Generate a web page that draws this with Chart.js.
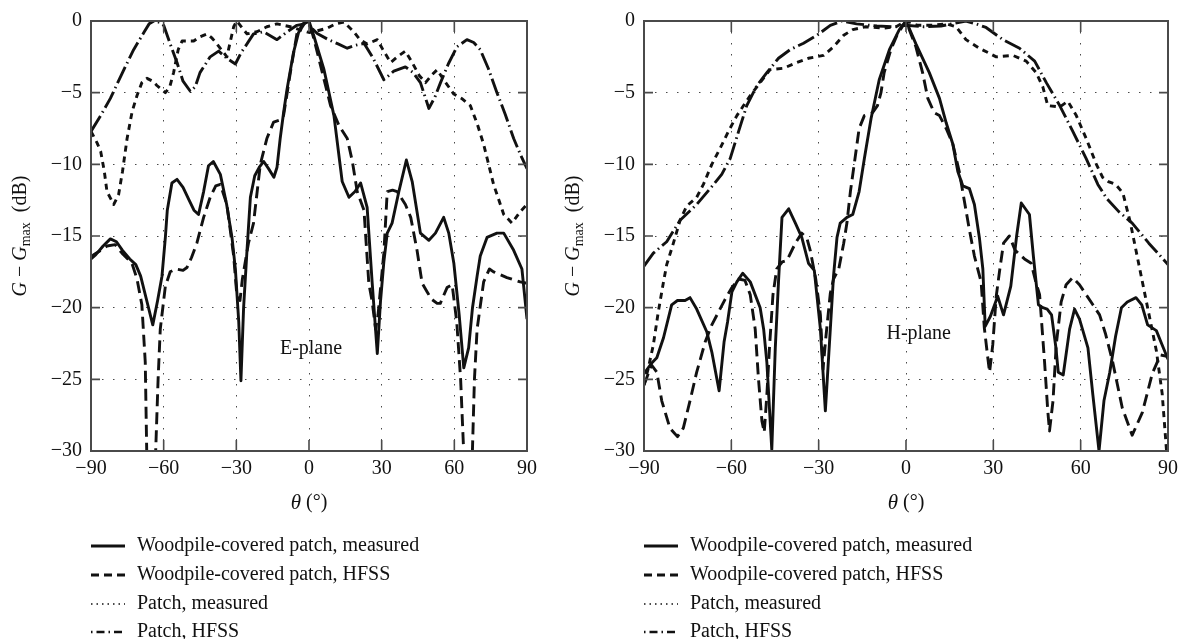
<!DOCTYPE html>
<html>
<head>
<meta charset="utf-8">
<script src="https://cdn.jsdelivr.net/npm/chart.js@4.4.1/dist/chart.umd.min.js"></script>
<style>
  html, body { margin: 0; padding: 0; background: #fff; }
  #wrap { position: relative; width: 1186px; height: 639px; }
  #wrap canvas { position: absolute; left: 0; top: 0; }
</style>
</head>
<body>
<div id="wrap">
  <canvas id="eplane" width="1186" height="639"></canvas>
  <canvas id="hplane" width="1186" height="639"></canvas>
</div>
<script>
// ---- data: [theta (deg), G - Gmax (dB)] ----
const seriesNames = [
  'Woodpile-covered patch, measured',
  'Woodpile-covered patch, HFSS',
  'Patch, measured',
  'Patch, HFSS'
];

const xTicks = [-90, -60, -30, 0, 30, 60, 90];
const yTicks = [-30, -25, -20, -15, -10, -5, 0];

// E-plane
const eWoodMeasured = [
  [-90,-16.6],[-88,-16.3],[-85,-15.7],[-82,-15.2],[-79.5,-15.4],[-77,-16.0],[-74,-16.6],[-71.5,-17.0],
  [-69.5,-17.8],[-67,-19.5],[-64.5,-21.2],[-62.5,-19.5],[-60.7,-17.8],[-59.3,-15.1],[-58.5,-13.2],
  [-56.6,-11.3],[-54.5,-11.05],[-52,-11.6],[-49.5,-12.5],[-47.5,-13.2],[-45.6,-13.5],[-43.5,-11.9],
  [-41.5,-10.1],[-39.5,-9.8],[-36.6,-10.7],[-34,-12.8],[-31.8,-15.1],[-30.4,-17.3],[-29,-21],
  [-28.1,-25.1],[-27,-20],[-25.6,-16],[-24.2,-12.3],[-22.4,-10.8],[-20.5,-10.2],[-18.7,-9.8],
  [-16.7,-10.3],[-14.5,-10.9],[-13.2,-10.2],[-11.9,-8.2],[-10.5,-6.4],[-9.1,-4.8],[-6.4,-2.2],
  [-4.3,-0.8],[-2,-0.2],[0,0],[2.1,-1.1],[6.2,-3.4],[10.3,-6.6],[13.7,-11.2],[16.5,-12.3],[19,-11.9],
  [21.3,-11.3],[24,-13.0],[26.1,-18.3],[28.2,-23.2],[29.5,-19.6],[30.9,-16.8],[32.3,-14.8],[34.3,-14.1],
  [37.1,-11.9],[40.2,-9.7],[42.6,-11.2],[46,-14.8],[49.5,-15.3],[52.2,-14.8],[55.6,-13.7],[57.7,-14.8],
  [59.8,-16.9],[62,-20.5],[63.9,-24.2],[65.9,-22.8],[67.5,-20],[69.4,-17.8],[70.7,-16.4],[73.5,-15.1],
  [77.6,-14.8],[80.4,-14.8],[84.5,-16],[87.9,-17.3],[90,-20.8]
];
const eWoodHfss = [
  [-90,-16.5],[-88.9,-16.3],[-86,-16],[-83.4,-15.7],[-80,-15.6],[-77.2,-16.2],[-73.1,-16.9],[-71,-18.0],
  [-69,-19.8],[-67.6,-23.8],[-66.9,-31],[-63.5,-31],[-62.3,-25],[-61.4,-21.5],[-59.3,-18.5],[-57.3,-17.5],
  [-55,-17.3],[-52,-17.4],[-50.4,-17.2],[-48.5,-16.5],[-46.3,-15.5],[-43.5,-13.7],[-40.8,-12.3],
  [-38.5,-11.5],[-36.6,-11.4],[-33.9,-12.8],[-31.1,-16.4],[-29.8,-19.1],[-28.5,-19.5],[-27.5,-18],
  [-25,-15.5],[-22.9,-14.1],[-20.1,-10],[-17.4,-8.2],[-14.6,-7.05],[-12,-6.9],[-10.5,-6.6],[-7.7,-3.6],
  [-5,-0.9],[-2.5,-0.2],[0,0],[2.1,-1.3],[5.5,-3.6],[8.9,-5.9],[12.4,-7.3],[15.8,-8.2],[17.9,-9.8],
  [19.9,-11.9],[22.7,-13.2],[24.7,-18.3],[26.1,-19.6],[27.5,-21.5],[28.5,-20.5],[29.5,-18.7],[30.9,-16.2],
  [32.3,-11.9],[34.5,-11.8],[36.4,-11.9],[39.8,-12.8],[42,-13.7],[44.6,-16],[46.7,-18.3],[48.8,-18.9],
  [50.5,-19.4],[52.9,-19.7],[54.2,-19.7],[57,-18.6],[59.1,-18.4],[61,-21],[62.6,-25],[64.1,-31],
  [67.3,-31],[68.3,-25],[69.4,-21.5],[72.1,-18.2],[74.5,-17.3],[76.2,-17.5],[81.7,-17.9],[87.2,-18.2],
  [90,-18.3]
];
const ePatchMeasured = [
  [-90,-7.7],[-87.5,-8.5],[-86,-9.1],[-84.5,-10.5],[-83.4,-11.9],[-80.6,-12.8],[-78.6,-12.1],[-77,-10.5],
  [-75.1,-8.2],[-73,-6.3],[-71,-5.2],[-69,-4.3],[-66.9,-4.0],[-64.5,-4.2],[-62.8,-4.5],[-59.3,-5.0],
  [-57.5,-4.6],[-55.9,-3.6],[-54,-2],[-52.4,-1.4],[-47.6,-1.4],[-45,-1.1],[-42.1,-0.9],[-40,-1.2],
  [-38,-1.6],[-33.9,-2.5],[-31.1,-0.4],[-29.8,0],[-27.5,-0.5],[-25.6,-0.9],[-21.5,-0.75],[-17.4,-0.4],
  [-13.2,-0.2],[-7.7,-0.4],[-4,-0.6],[0,-0.8],[3,-0.7],[7.6,-0.5],[11,-0.2],[14.4,-0.07],[18.5,-0.75],
  [21,-1.3],[24,-1.6],[28.2,-1.3],[30.5,-2.0],[33.7,-2.9],[36.5,-2.5],[39.8,-2.1],[42.6,-2.9],
  [45.5,-3.8],[48.1,-4.3],[50.5,-3.8],[52.9,-3.4],[56,-4.2],[59.8,-5.1],[63,-5.4],[66.6,-5.9],
  [69.5,-7.2],[72.1,-8.6],[76.2,-11.4],[80.4,-13.5],[83.8,-14.1],[87.2,-13.3],[90,-12.8]
];
const ePatchHfss = [
  [-90,-7.7],[-86,-6.6],[-82,-5.4],[-77,-3.6],[-72.4,-2],[-68,-0.75],[-66,-0.2],[-64,0],[-61.5,-0.1],
  [-60,-0.3],[-57.3,-1.6],[-54.5,-2.9],[-52,-4.2],[-49,-4.9],[-47,-4.6],[-45,-3.6],[-40.8,-2.5],
  [-37.3,-2.1],[-34,-2.6],[-30.4,-3.0],[-28,-2.2],[-25.6,-1.6],[-22.9,-0.9],[-18.7,-0.75],[-13.2,-1.3],
  [-9,-0.75],[-5,-0.3],[-2,-0.2],[0,-0.3],[3.4,-0.87],[8,-1.3],[12,-1.6],[15.8,-1.9],[19,-1.7],
  [22.7,-1.56],[26.5,-2.6],[30.9,-4.1],[35,-3.5],[39.8,-3.2],[43,-3.6],[46,-4.3],[49.5,-6.1],[52,-5.3],
  [54.3,-4.3],[57.5,-3.0],[61.1,-1.8],[65.2,-1.3],[68,-1.5],[70.7,-2.0],[74,-3.3],[77.6,-5.0],[81,-6.5],
  [84.5,-8.2],[87.5,-9.4],[90,-10.3]
];

// H-plane
const hWoodMeasured = [
  [-90,-24.6],[-87.5,-23.9],[-85.6,-23.5],[-83.3,-22.1],[-80.5,-19.8],[-78.5,-19.5],[-75.9,-19.5],
  [-74.2,-19.3],[-71.9,-20.1],[-68.4,-21.7],[-66.7,-23.1],[-64.2,-25.8],[-62.5,-22.4],[-61.3,-21],
  [-59.8,-18.9],[-58.1,-18.2],[-56.1,-17.6],[-53.5,-18.2],[-50.1,-20],[-48.9,-21.5],[-47.8,-23.8],
  [-46.1,-29.9],[-44.9,-22.8],[-43.8,-18.2],[-42.6,-13.7],[-40.3,-13.1],[-38,-14.1],[-35.8,-15.1],
  [-33.5,-16.9],[-31.5,-17.4],[-29.4,-21.5],[-27.7,-27.2],[-26,-21.5],[-24.9,-17.8],[-23.7,-15.1],
  [-22.6,-14.1],[-20.3,-13.7],[-18.3,-13.5],[-16.1,-11.9],[-14.3,-9.6],[-12,-6.8],[-9.2,-4.1],
  [-5.7,-2.0],[-2.3,-0.6],[0,0],[3.4,-1.6],[8,-3.6],[11.5,-5.4],[13.8,-7.1],[16.1,-8.6],[17.8,-10.5],
  [19.5,-11.5],[21.8,-11.7],[23.5,-12.8],[25.2,-15.1],[26.4,-17.3],[27.2,-21.3],[29,-20.6],[31.5,-19.2],
  [33.5,-20.5],[36,-18.5],[38,-15],[39.6,-12.7],[42.4,-13.5],[43.8,-16.5],[45.5,-19.8],[47,-20],
  [48.5,-20.1],[50,-20.5],[51.5,-22.8],[52.3,-24.5],[54,-24.7],[56.2,-21.5],[57.9,-20.1],[59.6,-20.8],
  [62.5,-22.8],[64.2,-26.1],[66.3,-30],[68,-26.5],[70,-24.5],[72,-22],[74,-20],[76,-19.6],[79,-19.3],
  [81,-19.8],[83,-21.2],[86,-21.6],[88,-22.6],[90,-23.6]
];
const hWoodHfss = [
  [-90,-25.4],[-87.4,-24],[-85.6,-24.5],[-83.9,-26.5],[-81.1,-28.4],[-78.5,-29],[-76.5,-28.4],
  [-74.2,-26.5],[-71.9,-24.5],[-69,-22.4],[-66.7,-21.2],[-64.4,-20.3],[-62.1,-19.4],[-59.8,-18.6],
  [-57.5,-18],[-55.3,-18.1],[-53.5,-19.1],[-51.8,-21.5],[-50.7,-24.9],[-49.5,-27.9],[-48.7,-28.7],
  [-47.8,-26.1],[-46.9,-22.8],[-45.7,-19.1],[-44.4,-17.3],[-42.5,-16.8],[-40.9,-16.7],[-38,-15.5],
  [-35.8,-14.8],[-34,-15.2],[-32.9,-16],[-31,-18],[-29.4,-20.5],[-28.5,-24.3],[-27.5,-22],[-26,-19],
  [-24.9,-18],[-23.1,-17.3],[-21.4,-15.5],[-20.3,-14.1],[-19.1,-11.9],[-18,-10.3],[-16.1,-7.5],
  [-14.3,-6.6],[-11.5,-6.4],[-9.8,-5.9],[-8.6,-5],[-7.5,-3.6],[-5.2,-2.0],[-2.9,-0.9],[0,0],[3.4,-1.8],
  [5.7,-3.6],[7.5,-5.4],[9.7,-6.4],[11.5,-6.6],[13.8,-7.5],[16.1,-8.6],[18.3,-10.5],[20,-12.5],
  [21.8,-14.6],[23.5,-16.4],[25.8,-18.2],[26.9,-21.4],[28.1,-23.5],[28.7,-24.5],[29.8,-22.6],[31,-19.2],
  [32.1,-17.5],[33.5,-15.5],[35.5,-15.0],[37.5,-16],[40.7,-16.6],[43,-16.9],[44.7,-18.3],[45.9,-19.1],
  [47.6,-23.8],[48.7,-27.2],[49.3,-28.6],[50.5,-26.5],[51.6,-22.6],[53.3,-19.6],[55,-18.4],[57.3,-17.9],
  [59.6,-18.4],[61.9,-19.1],[64.2,-19.8],[66.5,-20.5],[68.5,-21.8],[70.9,-23.7],[74.3,-27],[77.7,-28.9],
  [81.2,-27.3],[84.6,-24.6],[87.4,-23.3],[89.7,-23.4]
];
const hPatchMeasured = [
  [-90,-25.4],[-88.5,-24.2],[-86.8,-22.6],[-85.1,-20.3],[-83.3,-18.2],[-82.2,-17.0],[-79.9,-15.5],
  [-77.6,-13.9],[-75.3,-12.9],[-71.9,-12.3],[-69.6,-11.4],[-66.7,-10],[-63.9,-8.9],[-61,-7.7],
  [-58.1,-6.6],[-55.8,-5.9],[-53.5,-5.2],[-50.1,-4.3],[-46.7,-3.4],[-42.1,-3.3],[-37.5,-2.9],
  [-33.5,-2.6],[-28.3,-2.4],[-24.9,-1.8],[-21.4,-1.0],[-18.3,-0.6],[-13.8,-0.4],[-8,-0.5],[-3.4,-0.4],
  [0,0],[4,-0.3],[9,-0.3],[14,-0.2],[17.2,-0.4],[20.6,-1.3],[25.2,-1.9],[31,-2.5],[36.7,-2.4],
  [41.3,-2.8],[44.7,-3.6],[47,-4.6],[48.7,-5.9],[52.8,-6.0],[55.6,-5.6],[58.5,-6.6],[61.9,-8.2],
  [65.4,-10.0],[67.5,-10.9],[69.5,-11.2],[72,-11.4],[74.5,-12],[77,-14],[80,-17],[83,-20],[86,-23],
  [88,-26],[89.5,-30]
];
const hPatchHfss = [
  [-90,-17.1],[-86.8,-16.2],[-82.2,-15.4],[-77.6,-13.9],[-71.9,-12.8],[-67.3,-11.7],[-63.3,-10.7],
  [-60.4,-9.6],[-57.5,-7.7],[-54.7,-5.9],[-51.2,-4.5],[-47.8,-3.6],[-43.8,-2.6],[-39.8,-2.0],
  [-35.2,-1.55],[-30.6,-1.0],[-26,-0.3],[-22,0],[-17,-0.2],[-10,-0.35],[-4,-0.4],[0,-0.3],[6,-0.4],
  [12,-0.35],[17,-0.15],[20.6,0],[24,-0.2],[27.5,-0.45],[33.3,-1.3],[39,-1.9],[44.2,-2.8],[48.2,-4.3],
  [52.8,-5.9],[57.3,-7.7],[61.9,-9.6],[65.9,-11.4],[69,-12.4],[73.1,-13.3],[77.7,-14.1],[83.4,-15.5],
  [87,-16.3],[90,-17.0]
];

// ---- styling ----
const SERIF = '"Liberation Serif", "DejaVu Serif", serif';
const INK = '#111111';
const AXIS = '#4a4a4a';
const W = 1186, H = 639;

const lineStyles = [
  { dash: [], width: 2.9, legendDash: [], legendWidth: 2.8 },
  { dash: [12, 6], width: 2.9, legendDash: [8, 5], legendWidth: 2.8 },
  { dash: [6, 5], width: 2.9, legendDash: [1.5, 4], legendWidth: 1.4 },
  { dash: [18, 4, 1.5, 4], width: 2.9, legendDash: [1.5, 4, 8, 4], legendWidth: 2.4 }
];

const fmtTick = v => (v < 0 ? '\u2212' + Math.abs(v) : String(v));

// frame, inward ticks, titles, plane label and legend
const decorPlugin = {
  id: 'decor',
  afterDraw(chart, args, opts) {
    const { ctx, chartArea: a, scales: { x, y } } = chart;
    ctx.save();
    ctx.setLineDash([]);
    ctx.strokeStyle = AXIS;
    ctx.lineWidth = 1.6;
    ctx.beginPath();
    xTicks.forEach(v => {
      const px = x.getPixelForValue(v);
      ctx.moveTo(px, a.bottom); ctx.lineTo(px, a.bottom - 11);
      ctx.moveTo(px, a.top); ctx.lineTo(px, a.top + 11);
    });
    yTicks.forEach(v => {
      const py = y.getPixelForValue(v);
      ctx.moveTo(a.left, py); ctx.lineTo(a.left + 9, py);
      ctx.moveTo(a.right, py); ctx.lineTo(a.right - 9, py);
    });
    ctx.stroke();
    ctx.lineWidth = 2;
    ctx.strokeRect(a.left, a.top, a.right - a.left, a.bottom - a.top);

    ctx.fillStyle = INK;
    ctx.textBaseline = 'middle';

    // plane label
    ctx.font = `20px ${SERIF}`;
    ctx.textAlign = 'left';
    ctx.fillText(opts.plane.text, x.getPixelForValue(opts.plane.x), y.getPixelForValue(opts.plane.y));

    // x title: theta (deg)
    const cx = (a.left + a.right) / 2;
    const xParts = [
      { t: '\u03b8', f: `italic 21px ${SERIF}`, dy: 0 },
      { t: ' (\u00b0)', f: `20px ${SERIF}`, dy: 0 }
    ];
    drawParts(ctx, xParts, cx, opts.xTitleY);

    // y title: G - Gmax (dB)
    ctx.save();
    ctx.translate(opts.yTitleX, (a.top + a.bottom) / 2);
    ctx.rotate(-Math.PI / 2);
    const yParts = [
      { t: 'G', f: `italic 20px ${SERIF}`, dy: 0 },
      { t: ' \u2212 ', f: `20px ${SERIF}`, dy: 0 },
      { t: 'G', f: `italic 20px ${SERIF}`, dy: 0 },
      { t: 'max', f: `14px ${SERIF}`, dy: 5 },
      { t: '  (dB)', f: `20px ${SERIF}`, dy: 0 }
    ];
    drawParts(ctx, yParts, 0, 0);
    ctx.restore();

    // legend
    chart.data.datasets.forEach((ds, i) => {
      const st = lineStyles[i];
      const ly = opts.legend.rows[i];
      ctx.save();
      ctx.strokeStyle = INK;
      ctx.lineWidth = st.legendWidth;
      ctx.setLineDash(st.legendDash);
      ctx.beginPath();
      ctx.moveTo(opts.legend.x, ly);
      ctx.lineTo(opts.legend.x + 34, ly);
      ctx.stroke();
      ctx.restore();
      ctx.font = `20px ${SERIF}`;
      ctx.textAlign = 'left';
      ctx.fillText(ds.label, opts.legend.x + 46, ly);
    });
    ctx.restore();
  }
};

function drawParts(ctx, parts, cx, cy) {
  let total = 0;
  parts.forEach(p => { ctx.font = p.f; p.w = ctx.measureText(p.t).width; total += p.w; });
  let px = cx - total / 2;
  ctx.textAlign = 'left';
  parts.forEach(p => { ctx.font = p.f; ctx.fillText(p.t, px, cy + p.dy); px += p.w; });
}

function makeChart(id, series, box, plane, yTitleX) {
  const tickFont = { family: SERIF, size: 20 };
  return new Chart(document.getElementById(id), {
    type: 'line',
    data: {
      datasets: series.map((s, i) => ({
        label: seriesNames[i],
        data: s.map(([t, g]) => ({ x: t, y: g })),
        borderColor: INK,
        borderWidth: lineStyles[i].width,
        borderDash: lineStyles[i].dash,
        borderJoinStyle: 'round',
        pointRadius: 0,
        fill: false,
        tension: 0
      }))
    },
    options: {
      responsive: false,
      animation: false,
      devicePixelRatio: 1,
      layout: { padding: { left: 0, top: box.top, right: W - box.right, bottom: 0 } },
      scales: {
        x: {
          type: 'linear', min: -90, max: 90,
          afterBuildTicks: s => { s.ticks = xTicks.map(v => ({ value: v })); },
          afterFit: s => { s.height = H - box.bottom; },
          ticks: { font: tickFont, color: INK, padding: 6, maxRotation: 0, callback: fmtTick },
          grid: { color: AXIS, lineWidth: 1, drawTicks: false },
          border: { display: false, dash: [1.5, 9.5] }
        },
        y: {
          min: -30, max: 0,
          afterBuildTicks: s => { s.ticks = yTicks.map(v => ({ value: v })); },
          afterFit: s => { s.width = box.left; },
          ticks: { font: tickFont, color: INK, padding: 9, callback: fmtTick },
          grid: { color: AXIS, lineWidth: 1, drawTicks: false },
          border: { display: false, dash: [1.5, 9.5] }
        }
      },
      plugins: {
        legend: { display: false },
        tooltip: { enabled: false },
        decor: {
          plane: plane,
          xTitleY: 503,
          yTitleX: yTitleX,
          legend: { x: box.left, rows: [546, 575, 604, 632] }
        }
      }
    },
    plugins: [decorPlugin]
  });
}

makeChart('eplane', [eWoodMeasured, eWoodHfss, ePatchMeasured, ePatchHfss],
  { left: 91, right: 527, top: 14, bottom: 451 },
  { text: 'E-plane', x: -12, y: -22.9 }, 21);

makeChart('hplane', [hWoodMeasured, hWoodHfss, hPatchMeasured, hPatchHfss],
  { left: 644, right: 1168, top: 14, bottom: 451 },
  { text: 'H-plane', x: -6.7, y: -21.8 }, 574);
</script>
</body>
</html>
